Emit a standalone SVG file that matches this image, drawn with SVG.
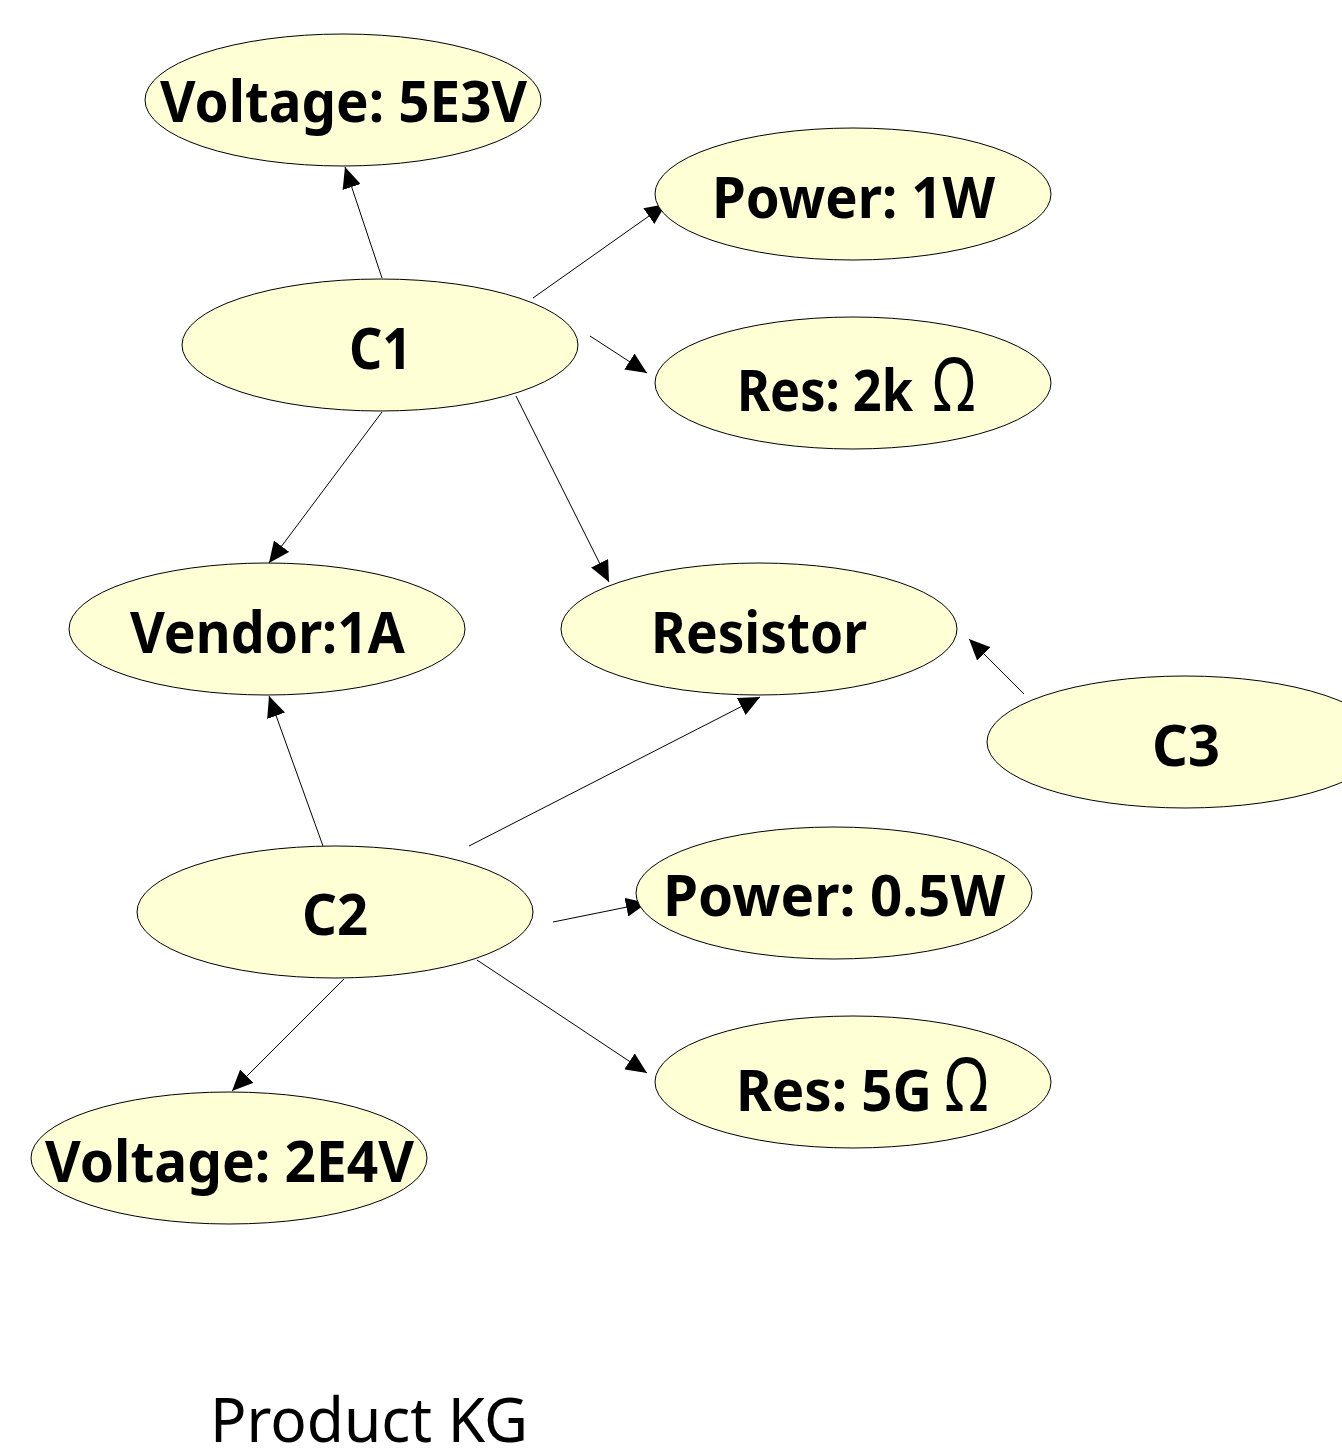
<svg xmlns="http://www.w3.org/2000/svg" width="1342" height="1449" viewBox="0 0 1342 1449">
<style>
  .node ellipse { fill: #ffffd6; stroke: #000; stroke-width: 1; }
  .lbl { font-family: "Noto Sans", "DejaVu Sans", sans-serif; font-weight: 700; font-size: 57px; fill: #000; text-anchor: middle; }
  .ohm { font-family: "Noto Sans", "DejaVu Sans", sans-serif; font-weight: 400; font-size: 74px; fill: #000; text-anchor: middle; }
  .edge { stroke: #000; stroke-width: 1; fill: none; marker-end: url(#arr); }
  .title { font-family: "Noto Sans", "DejaVu Sans", sans-serif; font-weight: 400; font-size: 62px; fill: #000; text-anchor: middle; }
</style>
<defs>
  <marker id="arr" markerUnits="userSpaceOnUse" markerWidth="21" markerHeight="19" refX="21" refY="9.5" orient="auto">
    <path d="M0,0 L21,9.5 L0,19 Z" fill="#000"/>
  </marker>
</defs>
<rect width="1342" height="1449" fill="#fff"/>
<g id="connectors">
  <path class="edge" d="M382,278 L345,167"/>
  <path class="edge" d="M533,298 L666,204"/>
  <path class="edge" d="M590,336 L647,373"/>
  <path class="edge" d="M382,412 L269,563"/>
  <path class="edge" d="M516,396 L609,582"/>
  <path class="edge" d="M1024,694 L969,639"/>
  <path class="edge" d="M323,846 L269,696"/>
  <path class="edge" d="M469,846 L760,697"/>
  <path class="edge" d="M553,922 L647,903"/>
  <path class="edge" d="M477,960 L647,1073"/>
  <path class="edge" d="M344,979 L232,1091"/>
</g>
<g id="n-voltage-5e3v" class="node">
  <ellipse cx="343" cy="100" rx="198" ry="66"/>
  <text class="lbl" x="343.5" y="122" textLength="367" lengthAdjust="spacingAndGlyphs">Voltage: 5E3V</text>
</g>
<g id="n-power-1w" class="node">
  <ellipse cx="853" cy="194" rx="198" ry="66"/>
  <text class="lbl" x="853.5" y="218" textLength="283" lengthAdjust="spacingAndGlyphs">Power: 1W</text>
</g>
<g id="n-c1" class="node">
  <ellipse cx="380" cy="345" rx="198" ry="66"/>
  <text class="lbl" x="380.5" y="369" textLength="63" lengthAdjust="spacingAndGlyphs">C1</text>
</g>
<g id="n-res-2k" class="node">
  <ellipse cx="853" cy="383" rx="198" ry="66"/>
  <text class="lbl" x="825" y="411" textLength="176" lengthAdjust="spacingAndGlyphs">Res: 2k</text>
  <text class="ohm" x="954" y="411" textLength="42" lengthAdjust="spacingAndGlyphs">Ω</text>
</g>
<g id="n-vendor-1a" class="node">
  <ellipse cx="267" cy="629" rx="198" ry="66"/>
  <text class="lbl" x="267.5" y="653" textLength="275" lengthAdjust="spacingAndGlyphs">Vendor:1A</text>
</g>
<g id="n-resistor" class="node">
  <ellipse cx="759" cy="629" rx="198" ry="66"/>
  <text class="lbl" x="759" y="653" textLength="216" lengthAdjust="spacingAndGlyphs">Resistor</text>
</g>
<g id="n-c3" class="node">
  <ellipse cx="1185" cy="742" rx="198" ry="66"/>
  <text class="lbl" x="1186" y="766" textLength="68" lengthAdjust="spacingAndGlyphs">C3</text>
</g>
<g id="n-c2" class="node">
  <ellipse cx="335" cy="912" rx="198" ry="66"/>
  <text class="lbl" x="335" y="935" textLength="66" lengthAdjust="spacingAndGlyphs">C2</text>
</g>
<g id="n-power-05w" class="node">
  <ellipse cx="834" cy="893" rx="198" ry="66"/>
  <text class="lbl" x="834" y="916" textLength="342" lengthAdjust="spacingAndGlyphs">Power: 0.5W</text>
</g>
<g id="n-res-5g" class="node">
  <ellipse cx="853" cy="1082" rx="198" ry="66"/>
  <text class="lbl" x="834" y="1111" textLength="196" lengthAdjust="spacingAndGlyphs">Res: 5G</text>
  <text class="ohm" x="966.5" y="1111" textLength="43" lengthAdjust="spacingAndGlyphs">Ω</text>
</g>
<g id="n-voltage-2e4v" class="node">
  <ellipse cx="229" cy="1158" rx="198" ry="66"/>
  <text class="lbl" x="229.5" y="1182" textLength="369" lengthAdjust="spacingAndGlyphs">Voltage: 2E4V</text>
</g>
<text class="title" x="369" y="1442" textLength="318" lengthAdjust="spacingAndGlyphs">Product KG</text>
</svg>
